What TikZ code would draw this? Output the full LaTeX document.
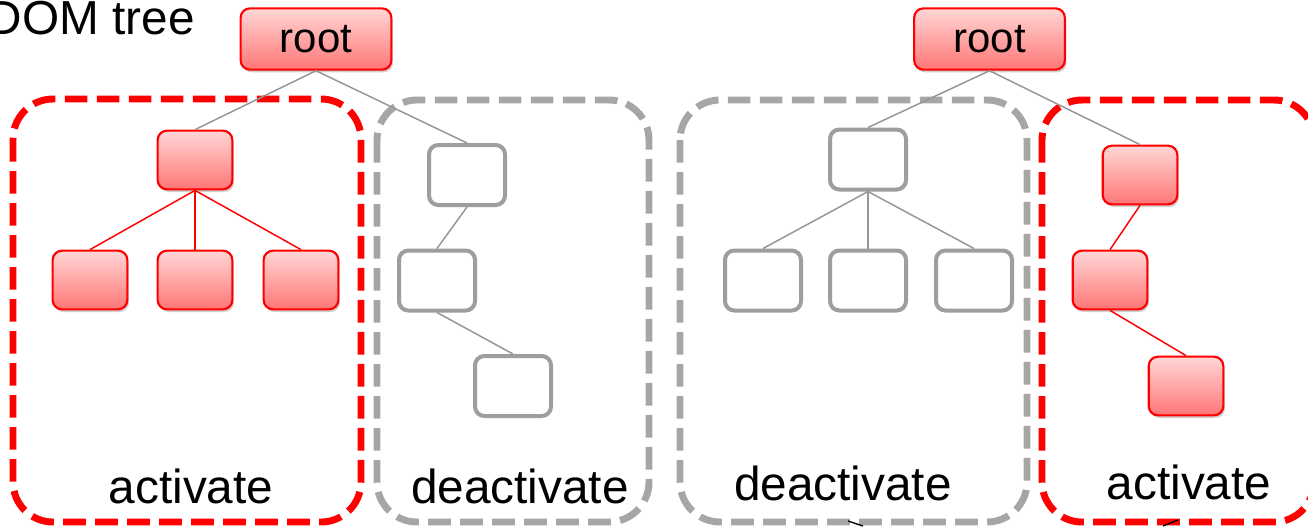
\documentclass[tikz,border=0pt]{standalone}
\usepackage{fontspec}
\setmainfont{Liberation Sans}
\usetikzlibrary{shadows}
\definecolor{pinktop}{RGB}{255,214,214}
\definecolor{pinkbot}{RGB}{255,118,118}
\definecolor{boxgray}{RGB}{166,166,166}
\definecolor{nodegray}{RGB}{158,158,158}
\definecolor{linegray}{RGB}{150,150,150}
\tikzset{
  rednode/.style={draw=red, line width=1.6pt, rounded corners=7pt, top color=pinktop, bottom color=pinkbot,
    minimum width=56pt, minimum height=44pt, inner sep=0pt,
    drop shadow={shadow xshift=1.2pt, shadow yshift=-2pt, opacity=.3, fill=black!60}},
  graynode/.style={draw=nodegray, line width=3pt, rounded corners=7pt, fill=white,
    minimum width=57pt, minimum height=45pt, inner sep=0pt},
  rootnode/.style={rednode, minimum width=113pt, minimum height=46pt, font=\fontsize{31.5pt}{36pt}\selectfont},
  redbox/.style={draw=red, line width=5.2pt, dash pattern=on 17pt off 7pt, rounded corners=30pt},
  graybox/.style={draw=boxgray, line width=5.2pt, dash pattern=on 17pt off 7pt, rounded corners=30pt},
  grayedge/.style={draw=linegray, line width=1.1pt},
  rededge/.style={draw=red, line width=1.1pt},
  boxlabel/.style={anchor=base, inner sep=0pt, font=\fontsize{35.8pt}{40pt}\selectfont},
}
\begin{document}
\begin{tikzpicture}[x=0.75pt, y=-0.75pt]
\useasboundingbox (0,0) rectangle (1308,526);
\clip (0,0) rectangle (1308,526);
\fill[white] (0,0) rectangle (1308,526);

% title
\node[anchor=base east, inner sep=0pt, font=\fontsize{35.8pt}{40pt}\selectfont] (title) at (195,34) {DOM tree};

% dashed regions
\draw[redbox]  (13,99) rectangle (361,522);
\draw[graybox] (377,100) rectangle (649,522);
\draw[graybox] (680,100) rectangle (1027,522);
\draw[redbox]  (1042,100) rectangle (1314,522);

% ---------- left tree ----------
\node[rootnode] (rootL) at (316,39) {root};
\node[rednode] (a1) at (195,160) {};
\node[rednode] (a2) at (90,280) {};
\node[rednode] (a3) at (195,280) {};
\node[rednode] (a4) at (301,280) {};
\node[graynode] (b1) at (467,175) {};
\node[graynode] (b2) at (437,280.5) {};
\node[graynode] (b3) at (513,386) {};

\draw[grayedge] (rootL.south) -- (a1.north);
\draw[grayedge] (rootL.south) -- (b1.north);
\draw[rededge] (a1.south) -- (a2.north);
\draw[rededge] (a1.south) -- (a3.north);
\draw[rededge] (a1.south) -- (a4.north);
\draw[grayedge] (b1.south) -- (b2.north);
\draw[grayedge] (b2.south) -- (b3.north);

% ---------- right tree ----------
\node[rootnode] (rootR) at (989.5,39) {root};
\node[graynode] (c1) at (868,159.5) {};
\node[graynode] (c2) at (763,280.5) {};
\node[graynode] (c3) at (868,280.5) {};
\node[graynode] (c4) at (974,280.5) {};
\node[rednode] (d1) at (1140,175) {};
\node[rednode] (d2) at (1110,280) {};
\node[rednode] (d3) at (1186,386) {};

\draw[grayedge] (rootR.south) -- (c1.north);
\draw[grayedge] (rootR.south) -- (d1.north);
\draw[grayedge] (c1.south) -- (c2.north);
\draw[grayedge] (c1.south) -- (c3.north);
\draw[grayedge] (c1.south) -- (c4.north);
\draw[rededge] (d1.south) -- (d2.north);
\draw[rededge] (d2.south) -- (d3.north);

% labels
\node[boxlabel] (l1) at (191,503) {activate};
\node[boxlabel] (l2) at (520,503) {deactivate};
\node[boxlabel] (l3) at (843,500) {deactivate};
\node[boxlabel] (l4) at (1189,499) {activate};

% cut-off arrow fragments at the bottom edge
\coordinate (f1a) at (848,521);
\coordinate (f1b) at (863,526);
\coordinate (f2a) at (1163,526);
\coordinate (f2b) at (1178,520);
\draw[black, line width=1pt] (f1a) -- (f1b);
\draw[black, line width=1pt] (f2a) -- (f2b);
\end{tikzpicture}
\end{document}
